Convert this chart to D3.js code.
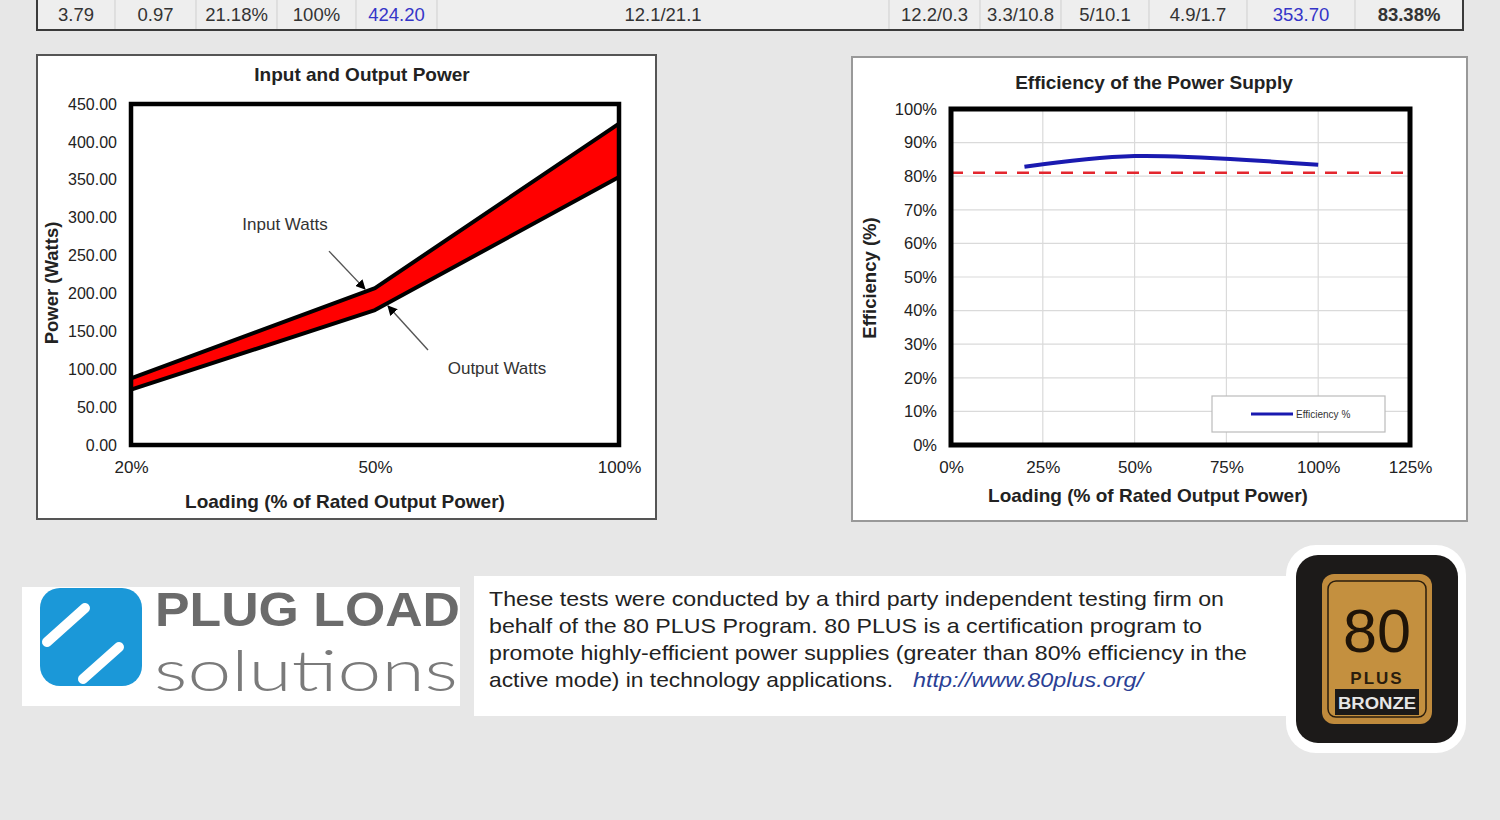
<!DOCTYPE html>
<html>
<head>
<meta charset="utf-8">
<title>80 PLUS report</title>
<script src="https://d3js.org/d3.v7.min.js"></script>
<style>
body { margin: 0; background: #e7e7e7; }
svg text { font-family: "Liberation Sans", Arial, sans-serif; }
</style>
</head>
<body>
<script>
// table row (last line of the load table, only this row is visible)
var tableCells = ["3.79", "0.97", "21.18%", "100%", "424.20", "12.1/21.1",
                  "12.2/0.3", "3.3/10.8", "5/10.1", "4.9/1.7", "353.70", "83.38%"];
var blueCells = [4, 10];

// input / output power chart
var loadLabels = ["20%", "50%", "100%"];
var inputWatts = [88, 207, 424.20];
var outputWatts = [73, 178, 353.70];
var powerTicks = [0, 50, 100, 150, 200, 250, 300, 350, 400, 450];

// efficiency chart
var effLoad = [20, 50, 100];
var effPct = [82.8, 86.0, 83.38];
var effLimit = 81;
var effYTicks = [0, 10, 20, 30, 40, 50, 60, 70, 80, 90, 100];
var effXTicks = [0, 25, 50, 75, 100, 125];

var noteLines = [
  "These tests were conducted by a third party independent testing firm on",
  "behalf of the 80 PLUS Program. 80 PLUS is a certification program to",
  "promote highly-efficient power supplies (greater than 80% efficiency in the",
  "active mode) in technology applications."
];

var svg = d3.select("body").append("svg")
    .attr("width", 1500)
    .attr("height", 820);

svg.append("rect").attr("width", 1500).attr("height", 820).attr("fill", "#e7e7e7");

// ---- table row ----
var colEdges = [37, 115, 196, 277, 356, 437, 889, 980, 1061, 1149, 1247, 1355, 1463];
var tbl = svg.append("g");
tbl.append("rect")
   .attr("x", 37).attr("y", -10).attr("width", 1426).attr("height", 40)
   .attr("fill", "#eeeeee");
tbl.selectAll("line.sep")
   .data(colEdges.slice(1, -1))
   .enter().append("line")
   .attr("x1", function(d) { return d; }).attr("x2", function(d) { return d; })
   .attr("y1", -10).attr("y2", 30)
   .attr("stroke", "#cfcfcf").attr("stroke-width", 1);
tbl.append("path")
   .attr("d", "M37,-10V30H1463V-10")
   .attr("fill", "none").attr("stroke", "#3a3a3a").attr("stroke-width", 2);
tbl.selectAll("text")
   .data(tableCells)
   .enter().append("text")
   .attr("x", function(d, i) { return (colEdges[i] + colEdges[i + 1]) / 2; })
   .attr("y", 21)
   .attr("text-anchor", "middle")
   .attr("font-size", 18.5)
   .attr("font-weight", function(d, i) { return i === tableCells.length - 1 ? "bold" : "normal"; })
   .attr("fill", function(d, i) { return blueCells.indexOf(i) >= 0 ? "#3535c8" : "#333"; })
   .text(function(d) { return d; });

// ---- left chart: input and output power ----
var left = svg.append("g");
left.append("rect")
    .attr("x", 37).attr("y", 55).attr("width", 619).attr("height", 464)
    .attr("fill", "#fff").attr("stroke", "#555").attr("stroke-width", 2);

var xL = d3.scalePoint().domain(loadLabels).range([131, 619]);
var yL = d3.scaleLinear().domain([0, 450]).range([445, 104]);

left.append("g")
    .attr("transform", "translate(131,0)")
    .call(d3.axisLeft(yL).tickValues(powerTicks).tickFormat(d3.format(".2f")).tickSize(0).tickPadding(14))
    .call(function(g) { g.select(".domain").remove(); })
    .selectAll("text").attr("font-size", 16).attr("fill", "#222")
    .attr("font-family", "Liberation Sans, Arial, sans-serif");

left.append("g")
    .attr("transform", "translate(0,445)")
    .call(d3.axisBottom(xL).tickSize(0).tickPadding(16))
    .call(function(g) { g.select(".domain").remove(); })
    .selectAll("text").attr("font-size", 17).attr("fill", "#222")
    .attr("font-family", "Liberation Sans, Arial, sans-serif");

var band = d3.area()
    .x(function(d, i) { return xL(loadLabels[i]); })
    .y0(function(d, i) { return yL(outputWatts[i]); })
    .y1(function(d) { return yL(d); });
left.append("path")
    .attr("d", band(inputWatts))
    .attr("fill", "#ff0000");

var pline = d3.line()
    .x(function(d, i) { return xL(loadLabels[i]); })
    .y(function(d) { return yL(d); });
[inputWatts, outputWatts].forEach(function(s) {
  left.append("path")
      .attr("d", pline(s))
      .attr("fill", "none").attr("stroke", "#000").attr("stroke-width", 4)
      .attr("stroke-linejoin", "round");
});

left.append("rect")
    .attr("x", 131).attr("y", 104).attr("width", 488).attr("height", 341)
    .attr("fill", "none").attr("stroke", "#000").attr("stroke-width", 4.5);

left.append("text").attr("x", 362).attr("y", 81).attr("text-anchor", "middle")
    .attr("font-size", 19).attr("font-weight", "bold").attr("fill", "#222")
    .text("Input and Output Power");
left.append("text").attr("x", 345).attr("y", 508).attr("text-anchor", "middle")
    .attr("font-size", 19).attr("font-weight", "bold").attr("fill", "#222")
    .text("Loading (% of Rated Output Power)");
left.append("text")
    .attr("transform", "translate(58,283) rotate(-90)")
    .attr("text-anchor", "middle")
    .attr("font-size", 18.5).attr("font-weight", "bold").attr("fill", "#222")
    .text("Power (Watts)");

// annotation arrows
svg.append("defs").append("marker")
    .attr("id", "tip").attr("viewBox", "0 0 10 10")
    .attr("refX", 9).attr("refY", 5)
    .attr("markerWidth", 10).attr("markerHeight", 10)
    .attr("markerUnits", "userSpaceOnUse")
    .attr("orient", "auto")
  .append("path").attr("d", "M0,0L10,5L0,10Z").attr("fill", "#000");

var x50 = xL("50%");
var inTip = [x50 - 10, yL(inputWatts[1]) + 1];
var outSlope = (yL(outputWatts[2]) - yL(outputWatts[1])) / (xL("100%") - x50);
var outTip = [x50 + 13, yL(outputWatts[1]) + 13 * outSlope + 3];

left.append("line")
    .attr("x1", inTip[0] - 36).attr("y1", inTip[1] - 38)
    .attr("x2", inTip[0]).attr("y2", inTip[1])
    .attr("stroke", "#555").attr("stroke-width", 1.4).attr("marker-end", "url(#tip)");
left.append("line")
    .attr("x1", outTip[0] + 40).attr("y1", outTip[1] + 44)
    .attr("x2", outTip[0]).attr("y2", outTip[1])
    .attr("stroke", "#555").attr("stroke-width", 1.4).attr("marker-end", "url(#tip)");
left.append("text").attr("x", 285).attr("y", 230).attr("text-anchor", "middle")
    .attr("font-size", 17).attr("fill", "#333").text("Input Watts");
left.append("text").attr("x", 497).attr("y", 374).attr("text-anchor", "middle")
    .attr("font-size", 17).attr("fill", "#333").text("Output Watts");

// ---- right chart: efficiency ----
var right = svg.append("g");
right.append("rect")
     .attr("x", 852).attr("y", 57).attr("width", 615).attr("height", 464)
     .attr("fill", "#fff").attr("stroke", "#999").attr("stroke-width", 2);

var xR = d3.scaleLinear().domain([0, 125]).range([951, 1410]);
var yR = d3.scaleLinear().domain([0, 100]).range([445, 109]);

right.append("g").selectAll("line")
     .data(effYTicks.slice(1, -1))
     .enter().append("line")
     .attr("x1", 951).attr("x2", 1410)
     .attr("y1", function(d) { return yR(d); }).attr("y2", function(d) { return yR(d); })
     .attr("stroke", "#dadada").attr("stroke-width", 1.2);
right.append("g").selectAll("line")
     .data(effXTicks.slice(1, -1))
     .enter().append("line")
     .attr("y1", 109).attr("y2", 445)
     .attr("x1", function(d) { return xR(d); }).attr("x2", function(d) { return xR(d); })
     .attr("stroke", "#dadada").attr("stroke-width", 1.2);

right.append("g")
     .attr("transform", "translate(951,0)")
     .call(d3.axisLeft(yR).tickValues(effYTicks).tickFormat(function(d) { return d + "%"; }).tickSize(0).tickPadding(14))
     .call(function(g) { g.select(".domain").remove(); })
     .selectAll("text").attr("font-size", 16.5).attr("fill", "#222")
     .attr("font-family", "Liberation Sans, Arial, sans-serif");
right.append("g")
     .attr("transform", "translate(0,445)")
     .call(d3.axisBottom(xR).tickValues(effXTicks).tickFormat(function(d) { return d + "%"; }).tickSize(0).tickPadding(16))
     .call(function(g) { g.select(".domain").remove(); })
     .selectAll("text").attr("font-size", 17).attr("fill", "#222")
     .attr("font-family", "Liberation Sans, Arial, sans-serif");

right.append("line")
     .attr("x1", xR(0)).attr("x2", xR(125))
     .attr("y1", yR(effLimit)).attr("y2", yR(effLimit))
     .attr("stroke", "#e3262e").attr("stroke-width", 2.5)
     .attr("stroke-dasharray", "12,10");

var eline = d3.line()
    .curve(d3.curveCatmullRom)
    .x(function(d, i) { return xR(effLoad[i]); })
    .y(function(d) { return yR(d); });
right.append("path")
     .attr("d", eline(effPct))
     .attr("fill", "none").attr("stroke", "#1a1ab0").attr("stroke-width", 4);

right.append("rect")
     .attr("x", 951).attr("y", 109).attr("width", 459).attr("height", 336)
     .attr("fill", "none").attr("stroke", "#000").attr("stroke-width", 5);

// legend
right.append("rect")
     .attr("x", 1212).attr("y", 396).attr("width", 173).attr("height", 36)
     .attr("fill", "#fff").attr("stroke", "#bbb").attr("stroke-width", 1.2);
right.append("line")
     .attr("x1", 1251).attr("x2", 1293).attr("y1", 414).attr("y2", 414)
     .attr("stroke", "#1a1ab0").attr("stroke-width", 3);
right.append("text").attr("x", 1296).attr("y", 417.5)
     .attr("font-size", 10).attr("fill", "#333").text("Efficiency %");

right.append("text").attr("x", 1154).attr("y", 89).attr("text-anchor", "middle")
     .attr("font-size", 19).attr("font-weight", "bold").attr("fill", "#222")
     .text("Efficiency of the Power Supply");
right.append("text").attr("x", 1148).attr("y", 502).attr("text-anchor", "middle")
     .attr("font-size", 19).attr("font-weight", "bold").attr("fill", "#222")
     .text("Loading (% of Rated Output Power)");
right.append("text")
     .attr("transform", "translate(876,278) rotate(-90)")
     .attr("text-anchor", "middle")
     .attr("font-size", 18.5).attr("font-weight", "bold").attr("fill", "#222")
     .text("Efficiency (%)");

// ---- footer: Plug Load logo ----
var logo = svg.append("g");
logo.append("rect").attr("x", 22).attr("y", 587).attr("width", 438).attr("height", 119).attr("fill", "#fff");
logo.append("rect").attr("x", 40).attr("y", 588).attr("width", 102).attr("height", 98)
    .attr("rx", 20).attr("fill", "#1b98d8");
logo.append("line").attr("x1", 47).attr("y1", 642).attr("x2", 85).attr("y2", 608)
    .attr("stroke", "#fff").attr("stroke-width", 10).attr("stroke-linecap", "round");
logo.append("line").attr("x1", 83).attr("y1", 679).attr("x2", 119).attr("y2", 647)
    .attr("stroke", "#fff").attr("stroke-width", 10).attr("stroke-linecap", "round");
logo.append("text").attr("x", 155).attr("y", 626)
    .attr("font-size", 49).attr("font-weight", "bold").attr("fill", "#6b6b6b")
    .attr("textLength", 305).attr("lengthAdjust", "spacingAndGlyphs")
    .text("PLUG LOAD");
logo.append("text").attr("x", 154).attr("y", 691)
    .attr("font-size", 58).attr("font-weight", 300).attr("fill", "#7a7a7a")
    .style("font-family", "Lato, 'Open Sans', sans-serif")
    .attr("textLength", 304).attr("lengthAdjust", "spacingAndGlyphs")
    .text("solutions");

// ---- footer: note ----
var note = svg.append("g");
note.append("rect").attr("x", 474).attr("y", 576).attr("width", 815).attr("height", 140).attr("fill", "#fff");
var lineWidths = [735, 713, 758, 404];
note.selectAll("text.l")
    .data(noteLines)
    .enter().append("text")
    .attr("x", 489)
    .attr("y", function(d, i) { return 606 + i * 27; })
    .attr("font-size", 21).attr("fill", "#222")
    .attr("textLength", function(d, i) { return lineWidths[i]; })
    .attr("lengthAdjust", "spacingAndGlyphs")
    .text(function(d) { return d; });
note.append("text").attr("x", 913).attr("y", 687)
    .attr("font-size", 21).attr("font-style", "italic").attr("fill", "#2b3f95")
    .attr("textLength", 230).attr("lengthAdjust", "spacingAndGlyphs")
    .text("http://www.80plus.org/");

// ---- footer: 80 PLUS bronze badge ----
var badge = svg.append("g");
badge.append("rect").attr("x", 1286).attr("y", 545).attr("width", 180).attr("height", 208)
     .attr("rx", 30).attr("fill", "#fff");
badge.append("rect").attr("x", 1296).attr("y", 555).attr("width", 162).attr("height", 188)
     .attr("rx", 22).attr("fill", "#1c1a19");
badge.append("rect").attr("x", 1322).attr("y", 574).attr("width", 110).attr("height", 150)
     .attr("rx", 12).attr("fill", "#bf8a3c");
badge.append("rect").attr("x", 1328).attr("y", 581).attr("width", 98).attr("height", 136)
     .attr("rx", 8).attr("fill", "#c4903f").attr("stroke", "#2a1d0d").attr("stroke-width", 1.5);
badge.append("rect").attr("x", 1335).attr("y", 689).attr("width", 84).attr("height", 26)
     .attr("fill", "#1c1a19");
badge.append("text").attr("x", 1377).attr("y", 652).attr("text-anchor", "middle")
     .attr("font-size", 62).attr("fill", "#1f1408")
     .attr("textLength", 68).attr("lengthAdjust", "spacingAndGlyphs")
     .text("80");
badge.append("text").attr("x", 1377).attr("y", 684).attr("text-anchor", "middle")
     .attr("font-size", 17).attr("font-weight", "bold").attr("fill", "#2a1d0d")
     .attr("letter-spacing", 2)
     .text("PLUS");
badge.append("text").attr("x", 1377).attr("y", 709).attr("text-anchor", "middle")
     .attr("font-size", 16).attr("font-weight", "bold").attr("fill", "#e6e6e6")
     .attr("textLength", 78).attr("lengthAdjust", "spacingAndGlyphs")
     .text("BRONZE");
</script>
</body>
</html>
